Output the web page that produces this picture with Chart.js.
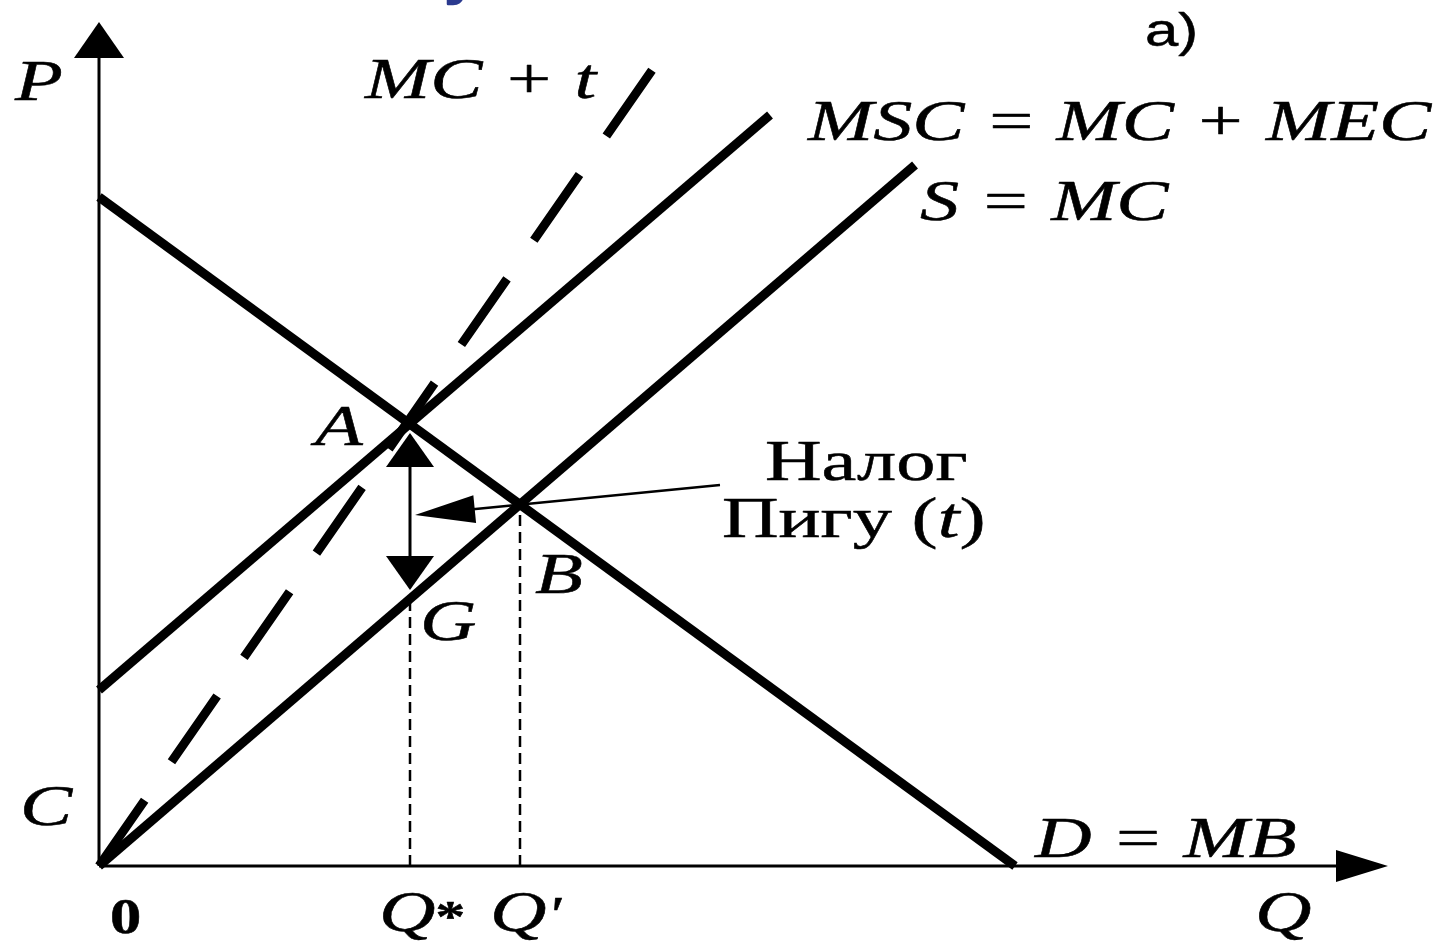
<!DOCTYPE html>
<html><head><meta charset="utf-8">
<script src="https://cdn.jsdelivr.net/npm/chart.js@4"></script>
<style>html,body{margin:0;padding:0;background:#fff;overflow:hidden}canvas{display:block}</style>
</head><body><canvas id="c" width="1452" height="942"></canvas>
<script>
// ---- data (Q on horizontal axis, P on vertical axis) ----
const qRange = [0, 128.9];
const pRange = [0, 84.4];
const demandQ = [0, 91.6];      // D = MB
const demandP = [66.9, 0];
const supplyQ = [0, 81.6];      // S = MC
const supplyP = [0, 70.1];
const mscQ = [0, 67.1];         // MSC = MC + MEC
const mscP = [17.6, 75.1];
const mctQ = [0, 55.8];         // MC + t (dashed)
const mctP = [0, 80.3];
const pointNames = ['A', 'B', 'G'];
const pointQ = [31.1, 42.1, 31.1];
const pointP = [44.2, 36.3, 26.8];
const taxArrowQ = [62.1, 31.6];   // pointer from "Налог Пигу (t)" label
const taxArrowP = [38.1, 35.1];

const pts = (qs, ps) => qs.map((q, i) => ({x: q, y: ps[i]}));
const A = {x: pointQ[0], y: pointP[0]}, B = {x: pointQ[1], y: pointP[1]}, G = {x: pointQ[2], y: pointP[2]};

const IT = 'italic 58px "Liberation Serif"';
const RM = '56px "Liberation Serif"';
const SX = 1.35;
// label layout: runs of [text, font], anchor (q, p) at left/baseline
const labelLayout = [
  {runs: [['P', IT]], q: -8.4, p: 76.6},
  {runs: [['MC + t', IT]], q: 26.6, p: 76.8},
  {runs: [['MSC = MC + MEC', IT]], q: 70.9, p: 72.6},
  {runs: [['S = MC', IT]], q: 82.1, p: 64.6},
  {runs: [['A', IT]], q: 21.6, p: 42.1},
  {runs: [['B', IT]], q: 43.6, p: 27.3},
  {runs: [['G', IT]], q: 32.1, p: 22.6},
  {runs: [['C', IT]], q: -7.9, p: 4.1},
  {runs: [['D = MB', IT]], q: 93.6, p: 0.9},
  {runs: [['Q', IT], ['*', 'bold 44px "Liberation Serif"']], q: 28.0, p: -6.5},
  {runs: [['Q', IT], ["'", 'italic 50px "Liberation Serif"']], q: 39.1, p: -6.5},
  {runs: [['Q', IT]], q: 115.6, p: -6.5},
  {runs: [['0', 'bold 50px "Liberation Serif"']], q: 1.1, p: -6.7, sx: 1.25},
  {runs: [['Налог', RM]], q: 66.6, p: 38.6, sx: 1.4},
  {runs: [['Пигу (', RM], ['t', 'italic 56px "Liberation Serif"'], [')', RM]], q: 62.3, p: 32.9, sx: 1.4},
  {runs: [['a)', '46px "Liberation Sans"']], q: 104.6, p: 82.0, sx: 1.3},
];

function drawRuns(ctx, runs, x, y, sx, color, stroke) {
  ctx.save();
  ctx.translate(x, y);
  ctx.scale(sx, 1);
  ctx.fillStyle = color || '#000';
  ctx.strokeStyle = color || '#000';
  ctx.lineWidth = stroke === undefined ? 0.5 : stroke;
  ctx.lineJoin = 'round';
  ctx.textAlign = 'left';
  ctx.textBaseline = 'alphabetic';
  let cx = 0;
  for (const [t, f] of runs) {
    ctx.font = f;
    ctx.fillText(t, cx, 0);
    if (ctx.lineWidth > 0) ctx.strokeText(t, cx, 0);
    cx += ctx.measureText(t).width;
  }
  ctx.restore();
}

function head(ctx, tx, ty, fx, fy, len, hw) {
  const a = Math.atan2(ty - fy, tx - fx);
  const bx = tx - Math.cos(a) * len, by = ty - Math.sin(a) * len;
  ctx.beginPath();
  ctx.moveTo(tx, ty);
  ctx.lineTo(bx + Math.sin(a) * hw, by - Math.cos(a) * hw);
  ctx.lineTo(bx - Math.sin(a) * hw, by + Math.cos(a) * hw);
  ctx.closePath();
  ctx.fill();
}

const diagramPlugin = {
  id: 'diagram',
  beforeDatasetsDraw(chart) {
    const ctx = chart.ctx, sx = chart.scales.x, sy = chart.scales.y;
    const x0 = sx.getPixelForValue(0), y0 = sy.getPixelForValue(0);
    const xt = sx.getPixelForValue(qRange[1]), yt = sy.getPixelForValue(pRange[1]);
    ctx.save();
    ctx.strokeStyle = '#000'; ctx.fillStyle = '#000'; ctx.lineWidth = 3;
    ctx.beginPath(); ctx.moveTo(x0, y0); ctx.lineTo(x0, yt + 30); ctx.stroke();
    head(ctx, x0, yt, x0, y0, 36, 25);
    ctx.beginPath(); ctx.moveTo(x0, y0); ctx.lineTo(xt - 40, y0); ctx.stroke();
    head(ctx, xt, y0, x0, y0, 52, 16);
    ctx.restore();
  },
  afterDatasetsDraw(chart) {
    const ctx = chart.ctx, sx = chart.scales.x, sy = chart.scales.y;
    const X = v => sx.getPixelForValue(v), Y = v => sy.getPixelForValue(v);
    ctx.save();
    ctx.strokeStyle = '#000'; ctx.fillStyle = '#000';
    // double arrow A <-> G
    const ax = X(A.x), ay = Y(A.y) + 9, gy = Y(G.y) - 8;
    ctx.lineWidth = 3;
    ctx.beginPath(); ctx.moveTo(ax, ay + 20); ctx.lineTo(ax, gy - 20); ctx.stroke();
    head(ctx, ax, ay, ax, gy, 34, 24);
    head(ctx, ax, gy, ax, ay, 34, 24);
    // tax pointer arrow
    const fx = X(taxArrowQ[0]), fy = Y(taxArrowP[0]), tx = X(taxArrowQ[1]), ty = Y(taxArrowP[1]);
    ctx.lineWidth = 2.5;
    ctx.beginPath(); ctx.moveTo(fx, fy); ctx.lineTo(tx + 30, ty - 3); ctx.stroke();
    head(ctx, tx, ty, fx, fy, 60, 14);
    // labels
    for (const L of labelLayout) drawRuns(ctx, L.runs, X(L.q), Y(L.p), L.sx || SX);
    // cut-off blue heading fragment at the top edge
    drawRuns(ctx, [['у', 'bold 50px "DejaVu Sans"']], X(34.4), -6, 1.0, '#2b3a8f', 0);
    ctx.restore();
  }
};

const solid = {showLine: true, pointRadius: 0, borderWidth: 9, borderColor: '#000', fill: false, clip: false, borderCapStyle: 'butt', tension: 0};
new Chart(document.getElementById('c'), {
  type: 'scatter',
  data: {datasets: [
    Object.assign({label: 'D = MB', data: pts(demandQ, demandP)}, solid),
    Object.assign({label: 'S = MC', data: pts(supplyQ, supplyP)}, solid),
    Object.assign({label: 'MSC = MC + MEC', data: pts(mscQ, mscP)}, solid),
    Object.assign({label: 'MC + t', data: pts(mctQ, mctP)}, solid, {borderDash: [80, 47], borderWidth: 9}),
    Object.assign({label: 'Q*', data: [{x: G.x, y: 0}, {x: G.x, y: G.y}]}, solid, {borderWidth: 2.5, borderDash: [11, 6]}),
    Object.assign({label: "Q'", data: [{x: B.x, y: 0}, {x: B.x, y: B.y}]}, solid, {borderWidth: 2.5, borderDash: [11, 6]}),
  ]},
  options: {
    responsive: false, devicePixelRatio: 1, animation: false,
    layout: {padding: {left: 99, right: 64, top: 22, bottom: 76}},
    scales: {
      x: {type: 'linear', min: qRange[0], max: qRange[1], display: false},
      y: {type: 'linear', min: pRange[0], max: pRange[1], display: false}
    },
    plugins: {legend: {display: false}, tooltip: {enabled: false}}
  },
  plugins: [diagramPlugin]
});
</script>
</body></html>
